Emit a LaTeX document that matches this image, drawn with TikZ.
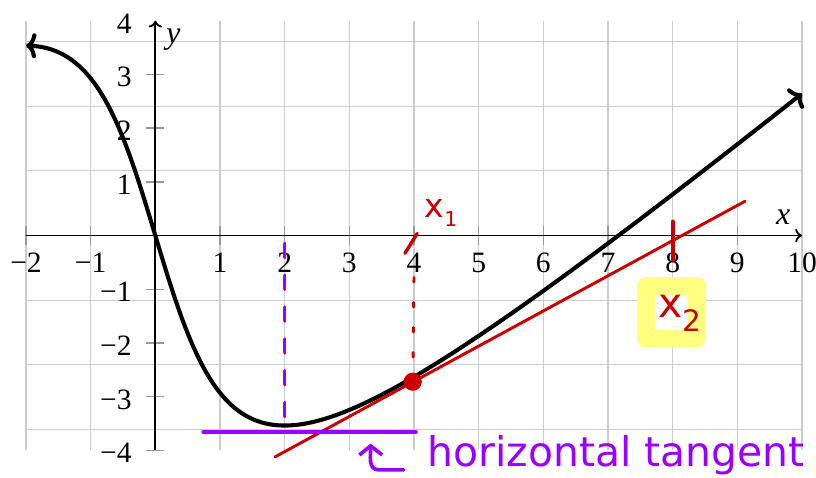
\documentclass[tikz,border=0pt]{standalone}
\usepackage{fontspec}
\setmainfont{Liberation Serif}
\newfontfamily\handfont{DejaVu Sans}
\usetikzlibrary{arrows.meta}
\definecolor{PlotGrid}{HTML}{CCCCCC}
\definecolor{PlotTick}{HTML}{999999}
\definecolor{PenRed}{HTML}{CC0000}
\definecolor{PenPurple}{HTML}{9A00FF}
\definecolor{PenYellow}{HTML}{FFFF80}
\tikzset{
  gridline/.style={PlotGrid,line width=0.5pt},
  tickmark/.style={PlotTick,line width=0.6pt},
  axis/.style={black,line width=0.8pt,-{To[length=3pt,width=6pt]}},
  curve/.style={black,line width=1.8pt,
                {To[length=4.5pt,width=11pt]}-{To[length=4.5pt,width=11pt]}},
  ticklabel/.style={font=\fontsize{13}{15}\selectfont,inner sep=0pt},
  axislabel/.style={font=\fontsize{14}{16}\selectfont\itshape,inner sep=0pt},
  redpen/.style={PenRed,line width=1.5pt,line cap=round},
  purplepen/.style={PenPurple,line width=1.6pt,line cap=round},
  handred/.style={text=PenRed,font=\handfont,inner sep=0pt},
  handpurple/.style={text=PenPurple,font=\handfont\fontsize{18}{21}\selectfont,inner sep=0pt},
}

\begin{document}
\begin{tikzpicture}[x=1cm,y=0.8308cm]
  \useasboundingbox (-2.402,-4.508) rectangle (10.216,4.385);

  % grid and highlight
  \draw[gridline] (-2,-4) grid (10,4);
  \fill[PenYellow,rounded corners=4pt] (7.445,-0.774) rectangle (8.516,-2.076);
  \fill[white] (7.73,-1.10) rectangle (8.24,-1.76);

  % axes
  \foreach \t in {-2,-1,1,2,...,9}
    \draw[tickmark] (\t,-0.17) -- (\t,0.17);
  \foreach \t in {-4,...,-1,1,2,3}
    \draw[tickmark] (-0.14,\t) -- (0.14,\t);
  \draw[axis] (-2,0) -- (10,0);
  \draw[axis] (0,-4) -- (0,4);
  \foreach \t/\s in {-2/−2,-1/−1,1/1,2/2,3/3,4/4,5/5,6/6,7/7,8/8,9/9,10/10}
    \node[ticklabel,anchor=base] (xl\t) at (\t,-0.69) {\s};
  \foreach \t/\s in {-4/−4,-3/−3,-2/−2,-1/−1,1/1,2/2,3/3,4/4}
    \node[ticklabel,anchor=base east] (yl\t) at (-0.36,\t-0.23) {\s};
  \node[axislabel] (xlab) at (9.71,0.34) {x};
  \node[axislabel] (ylab) at (0.28,3.64) {y};

  % f(x) = x - 5 arctan x
  \draw[curve] plot[domain=-2:10,samples=160,smooth] (\x,{\x-5*rad(atan(\x))});

  % tangent at x1
  \coordinate (tanA) at (1.85,-4.12);
  \coordinate (tanB) at (9.12,0.64);
  \coordinate (P1) at (3.98,-2.72);
  \draw[redpen,line width=1.3pt] (tanA) -- (tanB);
  \fill[PenRed] (P1) circle[radius=4pt];
  \draw[redpen,line width=1.3pt,dash pattern=on 2pt off 9pt] (4,-0.78) -- (P1);
  \draw[redpen] (3.86,-0.33) -- (4.05,0.04);
  \draw[redpen,line width=1.8pt] (8,0.26) -- (8,-0.45);
  \node[handred,anchor=base west] (xone) at (4.16,0.33)
    {\fontsize{14.5}{16}\selectfont x\raisebox{-4pt}{\fontsize{9}{10}\selectfont 1}};
  \node[handred,anchor=base west] (xtwo) at (7.77,-1.53)
    {\fontsize{18}{20}\selectfont x\raisebox{-6pt}{\fontsize{13}{15}\selectfont 2}};

  % horizontal tangent at the minimum
  \coordinate (P0) at (2,-3.53);
  \draw[purplepen,dash pattern=on 6pt off 8pt] (2,-0.15) -- (P0);
  \draw[purplepen] (0.74,-3.66) -- (4.03,-3.66);
  \draw[purplepen,-{Straight Barb[length=4pt,width=10pt]}]
    (3.84,-4.36) -- (3.45,-4.36) to[out=180,in=-90] (3.33,-3.87);
  \node[handpurple,anchor=base west] (httext) at (4.2,-4.29) {horizontal tangent};
\end{tikzpicture}
\end{document}
